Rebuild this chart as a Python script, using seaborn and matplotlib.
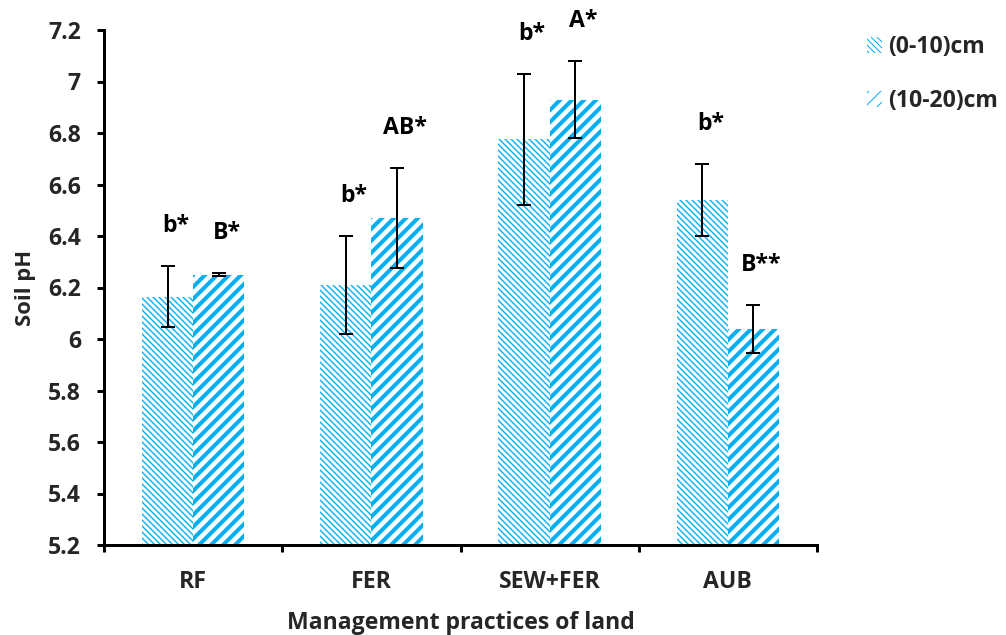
import numpy as np
import pandas as pd
import matplotlib
matplotlib.use("Agg")
import matplotlib.pyplot as plt
from matplotlib.patches import Patch
from matplotlib.ticker import FuncFormatter, FixedLocator
import seaborn as sns

# ---- data ----
practices = ["RF", "FER", "SEW+FER", "AUB"]
depths = ["(0-10)cm", "(10-20)cm"]
ph_0_10 = [6.165, 6.21, 6.775, 6.54]
ph_10_20 = [6.25, 6.47, 6.93, 6.04]
err_0_10 = [0.12, 0.19, 0.255, 0.14]
err_10_20 = [0.005, 0.195, 0.15, 0.093]
letters_0_10 = ["b*", "b*", "b*", "b*"]
letters_10_20 = ["B*", "AB*", "A*", "B**"]
y_ticks = [5.2, 5.4, 5.6, 5.8, 6.0, 6.2, 6.4, 6.6, 6.8, 7.0, 7.2]

df = pd.DataFrame({
    "practice": practices * 2,
    "depth": [depths[0]] * 4 + [depths[1]] * 4,
    "ph": ph_0_10 + ph_10_20,
})

sns.set_theme(style="white")
plt.rcParams["font.family"] = ["Open Sans", "DejaVu Sans"]
plt.rcParams["font.weight"] = "bold"

BLUE = "#00B0F0"
FS = 23

fig = plt.figure(figsize=(1006 / 72, 635 / 72), dpi=72)
ax = fig.add_axes([104 / 1006, 1 - 545 / 635, (817 - 104) / 1006, (545 - 30) / 635])

sns.barplot(data=df, x="practice", y="ph", hue="depth", order=practices,
            hue_order=depths, width=0.575, gap=0, errorbar=None,
            legend=False, ax=ax)

# fine downward diagonals for the shallow layer, wide upward ones for the deep layer
styles = [("\\\\\\\\", 1.4), ("//", 4.0)]
errs = [err_0_10, err_10_20]
vals = [ph_0_10, ph_10_20]
letters = [letters_0_10, letters_10_20]

for cont, (hatch, hlw), err, val, lab in zip(ax.containers, styles, errs, vals, letters):
    xs = []
    for p in cont.patches:
        p.set_facecolor("white")
        p.set_edgecolor(BLUE)
        p.set_linewidth(0)
        p.set_hatch(hatch)
        if hasattr(p, "set_hatch_linewidth"):
            p.set_hatch_linewidth(hlw)
        xs.append(p.get_x() + p.get_width() / 2)
    xs = np.array(xs)
    ax.errorbar(xs, val, yerr=err, fmt="none", ecolor="black",
                elinewidth=2, capsize=7, capthick=2, zorder=5)
    for x, v, e, t in zip(xs, val, err, lab):
        ax.annotate(t, (x, v + e), xytext=(8, 40), textcoords="offset points",
                    ha="center", va="center", fontsize=FS, fontweight="bold",
                    color="black")

ax.set_ylim(5.2, 7.2)
ax.set_xlim(-0.5, 3.5)
ax.yaxis.set_major_locator(FixedLocator(y_ticks))
ax.yaxis.set_major_formatter(FuncFormatter(lambda v, _: f"{v:g}"))
ax.set_xticks(range(len(practices)))
ax.set_xticklabels(practices)
ax.set_xticks(np.arange(-0.5, len(practices), 1.0), minor=True)

ax.tick_params(axis="x", which="major", length=0, pad=25, labelsize=FS)
ax.tick_params(axis="x", which="minor", length=7, width=3, direction="out",
               bottom=True, color="black")
ax.tick_params(axis="y", length=7, width=3, direction="out", left=True,
               pad=16, labelsize=FS, color="black")
for lbl in ax.get_xticklabels() + ax.get_yticklabels():
    lbl.set_fontweight("bold")

sns.despine(ax=ax)
for s in ("left", "bottom"):
    ax.spines[s].set_linewidth(3)
    ax.spines[s].set_color("black")

ax.set_xlabel("Management practices of land", fontsize=FS, fontweight="bold",
              labelpad=17)
ax.set_ylabel("Soil pH", fontsize=FS - 1, fontweight="bold", labelpad=12)

handles = []
for hatch, hlw in styles:
    h = Patch(facecolor="white", edgecolor=BLUE, linewidth=0, hatch=hatch)
    if hasattr(h, "set_hatch_linewidth"):
        h.set_hatch_linewidth(hlw)
    handles.append(h)
fig.legend(handles, depths, loc="upper left",
           bbox_to_anchor=(858 / 1006, 1 - 26 / 635), frameon=False,
           prop={"size": FS, "weight": "bold"}, handlelength=0.65,
           handleheight=0.65, handletextpad=0.25, labelspacing=1.3,
           borderaxespad=0)

fig.savefig("out.png", dpi=72)
